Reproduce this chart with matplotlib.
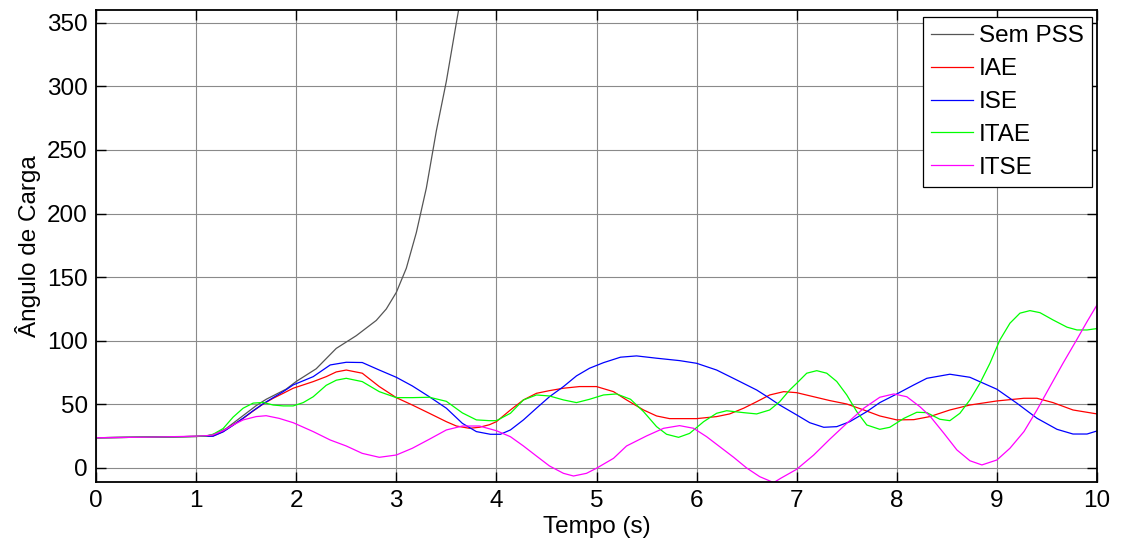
#!/usr/bin/python
# coding:utf-8

import numpy as np
import matplotlib
matplotlib.use('Agg')
from matplotlib import pyplot as plt

# valores (tempo em s, angulo em graus)
sem_t = [0, 0.5, 1.0, 1.1, 1.2, 1.3, 1.4, 1.5, 1.6, 1.7, 1.8, 1.9, 2.0, 2.2,
         2.4, 2.6, 2.8, 2.9, 3.0, 3.1, 3.2, 3.3, 3.4, 3.5, 3.6, 3.7]
sem_v = [23.8, 24.2, 24.8, 25, 27, 31, 37, 43, 49, 54, 58, 62, 68, 78,
         94, 104, 116, 125, 138, 157, 185, 220, 265, 304, 350, 395]

iae_t = [0, 0.5, 1.0, 1.1, 1.17, 1.27, 1.37, 1.47, 1.57, 1.67, 1.77, 1.87,
         1.97, 2.07, 2.17, 2.3, 2.4, 2.5, 2.66, 2.83, 3.0, 3.16, 3.33, 3.5,
         3.6, 3.73, 3.83, 3.93, 4.0, 4.14, 4.27, 4.4, 4.53, 4.67, 4.83, 5.0,
         5.17, 5.3, 5.47, 5.6, 5.73, 6.0, 6.2, 6.33, 6.47, 6.6, 6.73, 6.87,
         7.0, 7.17, 7.33, 7.5, 7.67, 7.83, 8.0, 8.17, 8.33, 8.53, 8.73, 9.0,
         9.27, 9.4, 9.56, 9.76, 10.0]
iae_v = [23.8, 24.2, 24.8, 25.0, 25.2, 28.6, 33.8, 39, 44.8, 50.3, 54.8, 58.7,
         62.7, 65.3, 67.9, 71.8, 75.5, 77, 74.5, 64, 55.3, 49.5, 43, 36.4,
         33, 31.2, 32, 34, 36.4, 45.6, 53.5, 58.7, 60.8, 62.7, 64, 64,
         60, 53.5, 45.6, 40.9, 38.8, 38.8, 40.4, 42.5, 47, 52.1, 57.4, 60,
         59.2, 56, 53, 50.3, 45.6, 40.9, 37.8, 38.0, 40.4, 45.6, 49.5, 52.7,
         54.8, 54.8, 51.4, 45.6, 42.5]

ise_t = [0, 0.5, 1.0, 1.1, 1.17, 1.27, 1.37, 1.47, 1.57, 1.67, 1.77, 1.87,
         1.97, 2.17, 2.34, 2.5, 2.66, 2.83, 3.0, 3.16, 3.33, 3.5, 3.66, 3.8,
         3.94, 4.04, 4.14, 4.27, 4.4, 4.53, 4.67, 4.8, 4.93, 5.07, 5.24, 5.4,
         5.6, 5.83, 6.0, 6.2, 6.4, 6.6, 6.73, 6.83, 7.0, 7.13, 7.27, 7.4,
         7.53, 7.7, 7.83, 8.0, 8.17, 8.3, 8.53, 8.73, 9.0, 9.2, 9.4, 9.6,
         9.76, 9.9, 10.0]
ise_v = [23.8, 24.2, 24.8, 25.0, 25.0, 28.4, 33.6, 39.2, 45, 50.5, 55.3, 60,
         65.3, 71.8, 81, 83.1, 82.9, 77, 71.3, 64.5, 56, 47, 35.1, 28.6,
         26.5, 26.5, 29.9, 37.8, 47, 56, 64, 72.4, 78.4, 82.8, 87.1, 88.1,
         86.3, 84.4, 82.3, 77, 69.2, 61.3, 54.8, 49.5, 41.7, 35.6, 32, 32.5,
         36.4, 44.3, 51.4, 58.2, 65.3, 70.5, 73.7, 71.3, 61.9, 50.9, 39.1, 30.4,
         26.7, 26.7, 29.1]

itae_t = [0, 0.5, 1.0, 1.1, 1.17, 1.27, 1.37, 1.47, 1.57, 1.67, 1.77, 1.87,
          1.97, 2.07, 2.17, 2.3, 2.4, 2.5, 2.66, 2.83, 3.0, 3.16, 3.33, 3.5,
          3.66, 3.8, 3.93, 4.0, 4.14, 4.27, 4.4, 4.53, 4.67, 4.8, 4.93, 5.07,
          5.2, 5.34, 5.47, 5.6, 5.7, 5.82, 5.93, 6.07, 6.2, 6.3, 6.47, 6.6,
          6.73, 6.83, 6.93, 7.0, 7.1, 7.2, 7.3, 7.4, 7.5, 7.6, 7.7, 7.83,
          7.93, 8.07, 8.2, 8.3, 8.43, 8.53, 8.63, 8.73, 8.83, 8.93, 9.03, 9.13,
          9.23, 9.33, 9.43, 9.56, 9.7, 9.8, 9.9, 10.0]
itae_v = [23.8, 24.2, 24.8, 25.2, 26.5, 31, 40, 47, 51, 51.5, 49.5, 48.8,
          48.8, 51.4, 56, 65, 69, 70.5, 67.9, 60, 55.3, 55.3, 55.6, 52.4,
          43.3, 37.8, 37.2, 37.2, 43, 53.5, 57.4, 56.6, 53.5, 51.4, 54, 57.4,
          58.2, 54, 44.3, 32.5, 26.5, 24.1, 27.2, 36.4, 43, 45, 43.5, 42.5,
          45.6, 52.1, 61.3, 66.6, 74.5, 76.5, 74.5, 68, 57.4, 44.3, 33.8, 30.4,
          32, 39, 43.8, 43.5, 38.3, 37.2, 43, 53.5, 66.6, 82.3, 100.7, 113.8,
          121.7, 123.7, 122.1, 116.4, 110.7, 108.5, 108.5, 109.6]

itse_t = [0, 0.5, 1.0, 1.1, 1.17, 1.27, 1.37, 1.47, 1.6, 1.7, 1.83, 1.97,
          2.17, 2.34, 2.5, 2.66, 2.83, 3.0, 3.16, 3.33, 3.5, 3.66, 3.83, 4.0,
          4.14, 4.27, 4.4, 4.53, 4.67, 4.77, 4.9, 5.0, 5.17, 5.3, 5.5, 5.67,
          5.83, 5.97, 6.1, 6.23, 6.37, 6.5, 6.63, 6.77, 6.84, 7.0, 7.17, 7.33,
          7.5, 7.67, 7.83, 7.97, 8.1, 8.23, 8.33, 8.47, 8.6, 8.73, 8.85, 9.0,
          9.13, 9.27, 9.4, 9.53, 9.66, 9.8, 9.9, 10.0]
itse_v = [23.8, 24.2, 25.0, 25.4, 26, 29.3, 33.8, 37.8, 40.4, 41.1, 39, 35.6,
          28.6, 22, 17.3, 11.5, 8.4, 10.2, 15.5, 22.6, 29.9, 33, 33, 29.3,
          24.6, 17.3, 9.4, 1.6, -4.2, -6.3, -4.2, -0.2, 7.6, 17.3, 25.2, 31.2,
          33.3, 31.2, 24.6, 16.8, 8.4, 0, -6.8, -11.5, -8.1, -1, 10.2, 22.6,
          35.1, 47, 55.6, 58.2, 56, 48.2, 40.9, 27.3, 14.2, 5.7, 2.4, 6.3,
          15.5, 28.6, 45.6, 64, 82.3, 101.2, 115, 128.2]

series = [
    ('Sem PSS', sem_t, sem_v, '#555555'),
    ('IAE', iae_t, iae_v, '#ff0000'),
    ('ISE', ise_t, ise_v, '#0000ff'),
    ('ITAE', itae_t, itae_v, '#00ff00'),
    ('ITSE', itse_t, itse_v, '#ff00ff'),
]


def main():
    plt.rcParams['font.family'] = ['Liberation Sans', 'DejaVu Sans']
    fig = plt.figure(figsize=(11.24, 5.44), dpi=100)
    ax = fig.add_axes([0.0854, 0.114, 0.8906, 0.8676])

    for name, t, v, c in series:
        ax.plot(np.array(t), np.array(v), color=c, lw=0.9, label=name)

    ax.set_xlim(0, 10)
    ax.set_ylim(-11, 360)
    ax.set_xticks(range(0, 11))
    ax.set_yticks(range(0, 351, 50))
    ax.grid(True, color='#8a8a8a', lw=0.8)
    ax.tick_params(direction='in', top=True, right=True, length=7,
                   width=1, labelsize=17.5, pad=6)
    for s in ax.spines.values():
        s.set_linewidth(1.3)

    ax.set_xlabel('Tempo (s)', fontsize=17.5, labelpad=3)
    ax.set_ylabel('Ângulo de Carga', fontsize=17.5, labelpad=4)

    leg = ax.legend(loc='upper right', bbox_to_anchor=(0.995, 0.986),
                    borderaxespad=0, fontsize=17.5, fancybox=False,
                    edgecolor='black', handlelength=1.7, handletextpad=0.25,
                    labelspacing=0.45, borderpad=0.35, framealpha=1)
    leg.get_frame().set_linewidth(0.9)

    fig.savefig('out.png', dpi=100)


if __name__ == '__main__':
    main()
